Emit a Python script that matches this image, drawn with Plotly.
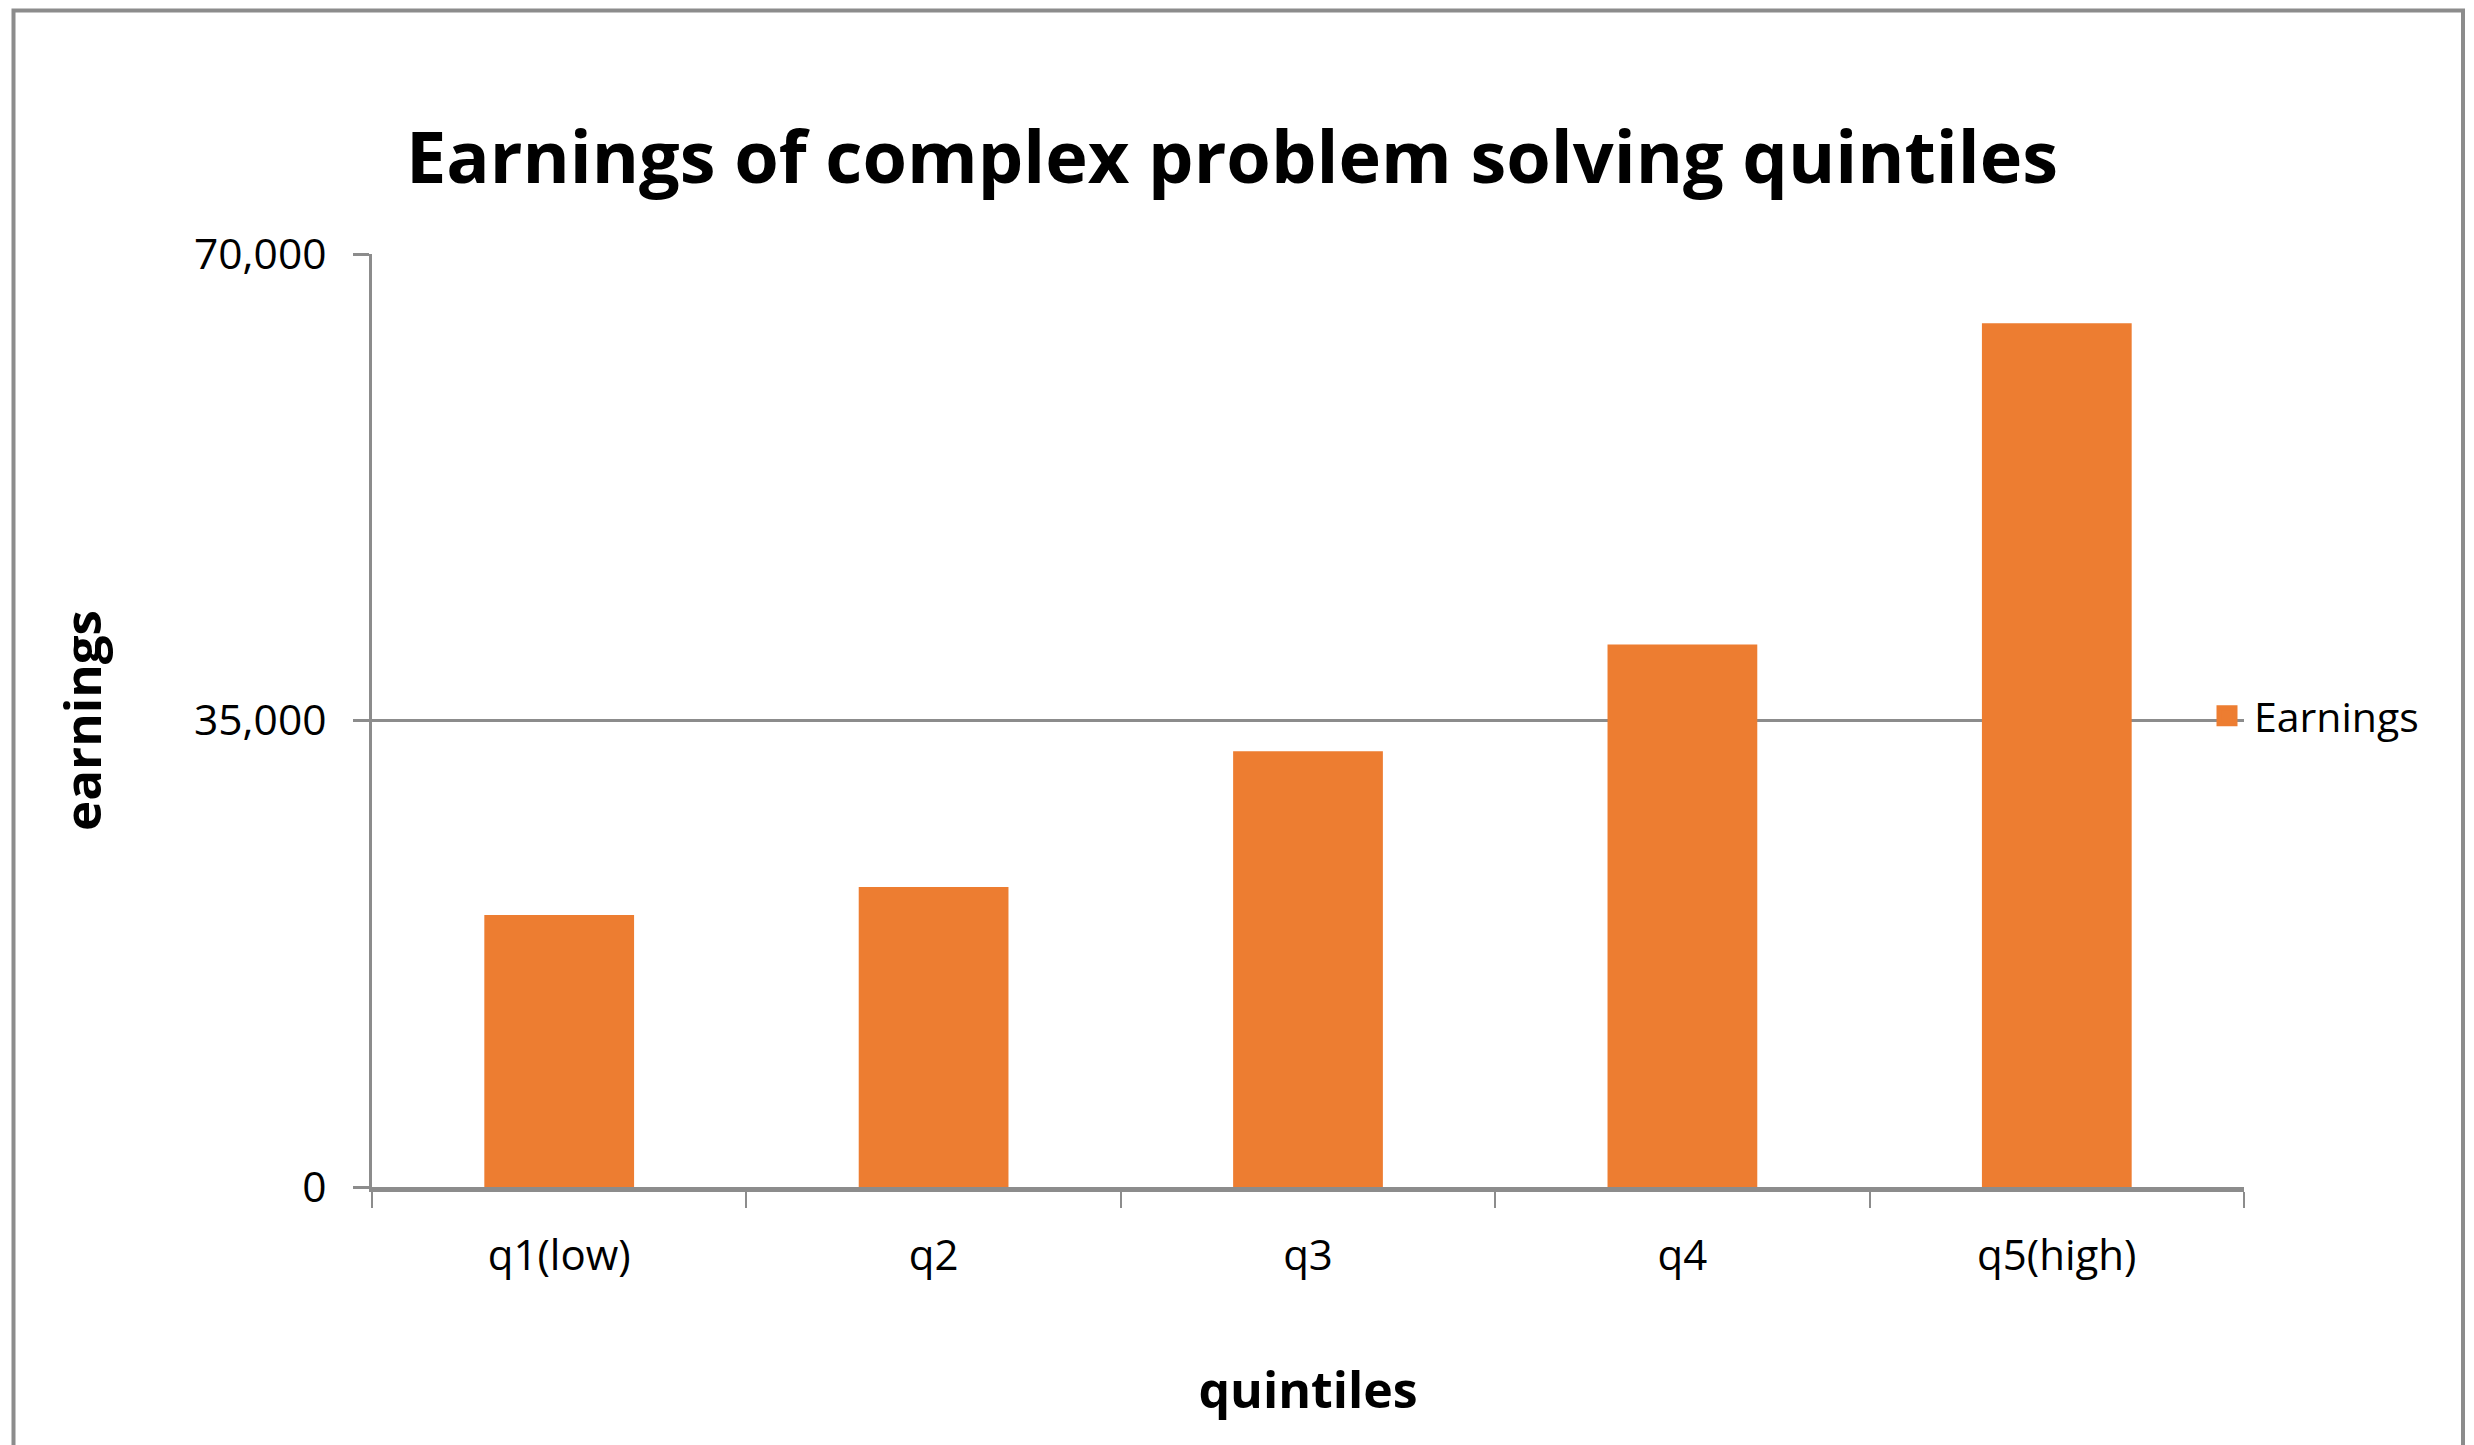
import plotly.graph_objects as go

categories = ["q1(low)", "q2", "q3", "q4", "q5(high)"]
earnings = [20400, 22500, 32700, 40700, 64800]
y_ticks = [0, 35000, 70000]
y_tick_labels = ["0", "35,000", "70,000"]

W, H = 2474, 1445
OFF = 8  # page body margin offset
# desired screen positions of plot area
SL, SR, ST, SB = 372, 2244, 254, 1187
L = SL - OFF
T = ST - OFF
R = W - (SR - OFF)
B = H - (SB - OFF)
pw = W - L - R
ph = H - T - B

ORANGE = "#ED7D31"
GRID = "#8C8C8C"
FONT = "Open Sans"

fig = go.Figure()
fig.add_trace(go.Bar(x=categories, y=earnings, marker=dict(color=ORANGE, line=dict(width=0)),
                     name="Earnings", showlegend=False))
# legend entry
fig.add_trace(go.Scatter(x=[None], y=[None], mode="markers", name="Earnings",
                         marker=dict(symbol="square", size=16, color=ORANGE,
                                     line=dict(color=ORANGE, width=5)),
                         showlegend=True))

def px_x(sx):
    return (sx - OFF - L) / pw

def px_y(sy):
    return (H - B - (sy - OFF)) / ph

fig.update_layout(
    width=W, height=H,
    margin=dict(l=L, r=R, t=T, b=B),
    paper_bgcolor="white", plot_bgcolor="white",
    font=dict(family=FONT, color="black", size=42),
    bargap=0.6,
    title=dict(text="<b>Earnings of complex problem solving quintiles</b>",
               font=dict(family=FONT, size=72, color="black"),
               x=(1232 - OFF) / W, xref="container", xanchor="center",
               y=1 - (158 - OFF) / H, yref="container", yanchor="middle"),
    xaxis=dict(
        type="category", range=[-0.5, 4.5],
        tickson="boundaries", ticks="outside", ticklen=16, tickwidth=2, tickcolor=GRID,
        showline=True, linecolor=GRID, linewidth=5,
        showgrid=False, zeroline=False,
        ticklabelstandoff=28,
        tickfont=dict(family=FONT, size=42, color="black"),
        title=dict(text="<b>quintiles</b>", font=dict(family=FONT, size=50, color="black"), standoff=93),
    ),
    yaxis=dict(
        range=[0, 70000], tickvals=y_ticks, ticktext=y_tick_labels,
        ticks="outside", ticklen=16, tickwidth=3, tickcolor=GRID,
        showline=True, linecolor=GRID, linewidth=3,
        showgrid=True, gridcolor=GRID, gridwidth=3,
        zeroline=False,
        ticklabelstandoff=18,
        tickfont=dict(family=FONT, size=42.5, color="black"),
        title=dict(text="<b>earnings</b>", font=dict(family=FONT, size=51, color="black"), standoff=77),
    ),
    legend=dict(x=px_x(2200), xanchor="left", y=px_y(716), yanchor="middle",
                font=dict(family=FONT, size=41, color="black"),
                bgcolor="rgba(0,0,0,0)", borderwidth=0, itemwidth=44),
    shapes=[dict(type="rect", xref="paper", yref="paper",
                 x0=px_x(13.5), x1=px_x(2463), y0=px_y(1520), y1=px_y(10.5),
                 line=dict(color=GRID, width=4), fillcolor="rgba(0,0,0,0)", layer="below")],
)

fig.write_html("out.html")
